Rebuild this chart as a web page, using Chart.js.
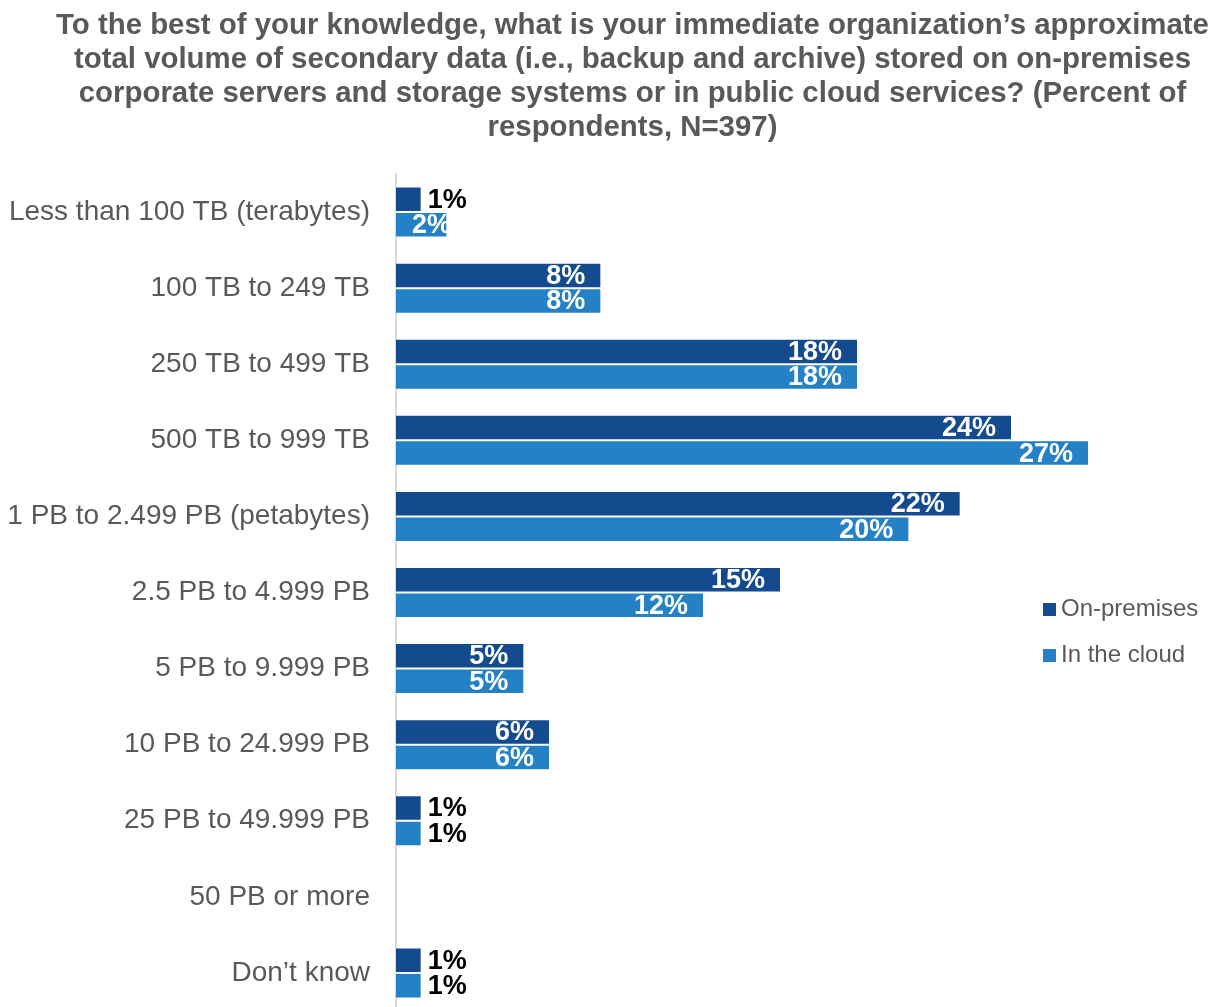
<!DOCTYPE html>
<html>
<head>
<meta charset="utf-8">
<script src="https://cdn.jsdelivr.net/npm/chart.js@4/dist/chart.umd.min.js"></script>
<style>
  html, body { margin:0; padding:0; background:#fff; overflow:hidden; }
  #wrap { position:relative; width:1215px; height:1007px; overflow:hidden; }
  #title { position:absolute; left:50px; width:1165px; top:7px; text-align:center;
    font-family:"Liberation Sans", Arial, sans-serif; font-weight:bold; font-size:29.4px;
    line-height:34px; color:#595959; white-space:nowrap; }
  #legend { position:absolute; left:1043px; top:594px; font-family:"Liberation Sans", Arial, sans-serif;
    font-size:24px; color:#595959; }
  .li { height:46px; line-height:28px; white-space:nowrap; }
  .sw { display:inline-block; width:13px; height:13px; margin-right:5px; vertical-align:0px; }
  #c { position:absolute; left:0; top:0; width:1215px; height:1020px; }
</style>
</head>
<body>
<div id="wrap">
  <canvas id="c" width="1215" height="1020" style="width:1215px;height:1020px"></canvas>
  <div id="title">To the best of your knowledge, what is your immediate organization’s approximate<br>total volume of secondary data (i.e., backup and archive) stored on on-premises<br>corporate servers and storage systems or in public cloud services? (Percent of<br>respondents, N=397)</div>
  <div id="legend"></div>
</div>
<script>
const categories = ["Less than 100 TB (terabytes)", "100 TB to 249 TB", "250 TB to 499 TB", "500 TB to 999 TB",
  "1 PB to 2.499 PB (petabytes)", "2.5 PB to 4.999 PB", "5 PB to 9.999 PB", "10 PB to 24.999 PB",
  "25 PB to 49.999 PB", "50 PB or more", "Don’t know"];
const onPremises = [1, 8, 18, 24, 22, 15, 5, 6, 1, 0, 1];
const inTheCloud = [2, 8, 18, 27, 20, 12, 5, 6, 1, 0, 1];
const seriesNames = ["On-premises", "In the cloud"];
const seriesColors = ["#144B8F", "#2481C6"];

const labelPlugin = {
  id: 'barLabels',
  afterDatasetsDraw(chart) {
    const ctx = chart.ctx;
    ctx.save();
    ctx.font = 'bold 27px "Liberation Sans", Arial, sans-serif';
    ctx.textBaseline = 'middle';
    chart.data.datasets.forEach((ds, di) => {
      const meta = chart.getDatasetMeta(di);
      meta.data.forEach((bar, i) => {
        const v = ds.data[i];
        if (!v) return;
        const txt = v + '%';
        const w = ctx.measureText(txt).width;
        const base = bar.base;
        if (v >= 2) {
          ctx.fillStyle = '#ffffff';
          const right = Math.max(bar.x - 16, base + 16 + w);
          ctx.save();
          ctx.beginPath();
          ctx.rect(base, bar.y - bar.height / 2, bar.x - base, bar.height);
          ctx.clip();
          ctx.textAlign = 'right';
          ctx.fillText(txt, right, bar.y + 1);
          ctx.restore();
        } else {
          ctx.fillStyle = '#000000';
          ctx.textAlign = 'left';
          ctx.fillText(txt, bar.x + 6, bar.y + 1);
        }
      });
    });
    ctx.restore();
  }
};

new Chart(document.getElementById('c'), {
  type: 'bar',
  data: {
    labels: categories,
    datasets: [
      { label: seriesNames[0], data: onPremises, backgroundColor: seriesColors[0], borderColor: 'rgba(255,255,255,0.35)', borderWidth: 1,
        categoryPercentage: 0.67, barPercentage: 1.0 },
      { label: seriesNames[1], data: inTheCloud, backgroundColor: seriesColors[1], borderColor: 'rgba(255,255,255,0.35)', borderWidth: 1,
        categoryPercentage: 0.67, barPercentage: 1.0 }
    ]
  },
  options: {
    indexAxis: 'y',
    responsive: false,
    maintainAspectRatio: false,
    animation: false,
    layout: { padding: { top: 174, right: 49, left: 0, bottom: 9 } },
    plugins: { legend: { display: false }, tooltip: { enabled: false } },
    scales: {
      x: { display: false, min: 0, max: 30 },
      y: {
        afterFit(s) { s.width = 396; s.paddingTop = 0; s.paddingBottom = 0; },
        grid: { display: false, drawTicks: false },
        border: { display: true, color: '#d9d9d9', width: 2 },
        ticks: { padding: 26, autoSkip: false, color: '#595959', font: { family: '"Liberation Sans", Arial, sans-serif', size: 28 } }
      }
    }
  },
  plugins: [labelPlugin]
});

const lg = document.getElementById('legend');
seriesNames.forEach((n, i) => {
  const d = document.createElement('div');
  d.className = 'li';
  d.innerHTML = '<span class="sw" style="background:' + seriesColors[i] + '"></span>' + n;
  lg.appendChild(d);
});
</script>
</body>
</html>
